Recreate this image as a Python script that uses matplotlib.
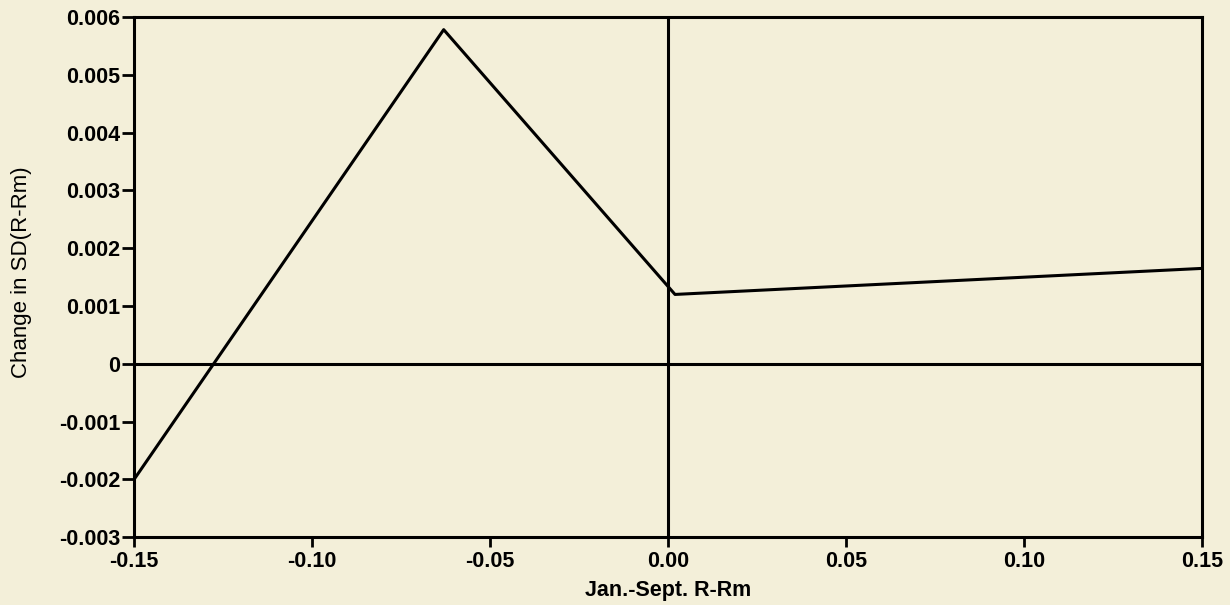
import numpy as np
import matplotlib.pyplot as plt

# values
x_vals = [-0.15, -0.063, 0.002, 0.15]
y_vals = [-0.002, 0.00578, 0.0012, 0.00165]

x_ticks = [-0.15, -0.10, -0.05, 0.00, 0.05, 0.10, 0.15]
x_labels = ["-0.15", "-0.10", "-0.05", "0.00", "0.05", "0.10", "0.15"]
y_ticks = [-0.003, -0.002, -0.001, 0.0, 0.001, 0.002, 0.003, 0.004, 0.005, 0.006]
y_labels = ["-0.003", "-0.002", "-0.001", "0", "0.001", "0.002", "0.003",
            "0.004", "0.005", "0.006"]

plt.rcParams['font.family'] = ['Liberation Sans', 'DejaVu Sans']
bg = '#f3efd9'

fig = plt.figure(figsize=(12.3, 6.05), dpi=100, facecolor=bg)
ax = fig.add_axes([0.109, 0.112, 0.868, 0.860], facecolor=bg)

ax.plot(x_vals, y_vals, color='black', lw=2.2)
ax.axhline(0, color='black', lw=2.2)
ax.axvline(0, color='black', lw=2.2)

ax.set_xlim(-0.15, 0.15)
ax.set_ylim(-0.003, 0.006)
ax.set_xticks(x_ticks)
ax.set_xticklabels(x_labels, fontsize=15.5, fontweight='bold')
ax.set_yticks(y_ticks)
ax.set_yticklabels(y_labels, fontsize=15.5, fontweight='bold')
ax.tick_params(axis='x', direction='out', length=7, width=2, pad=3)
ax.tick_params(axis='y', direction='out', length=9, width=2, pad=1)

for s in ax.spines.values():
    s.set_linewidth(2.2)

ax.set_xlabel("Jan.-Sept. R-Rm", fontsize=15.5, fontweight='bold')
ax.xaxis.label.set_va('center')
ax.xaxis.set_label_coords(0.5, -0.102)
ax.set_ylabel("Change in SD(R-Rm)", fontsize=16)
ax.yaxis.label.set_va('center')
ax.yaxis.set_label_coords(-0.105, 0.51)

fig.savefig("out.png", dpi=100, facecolor=bg)
